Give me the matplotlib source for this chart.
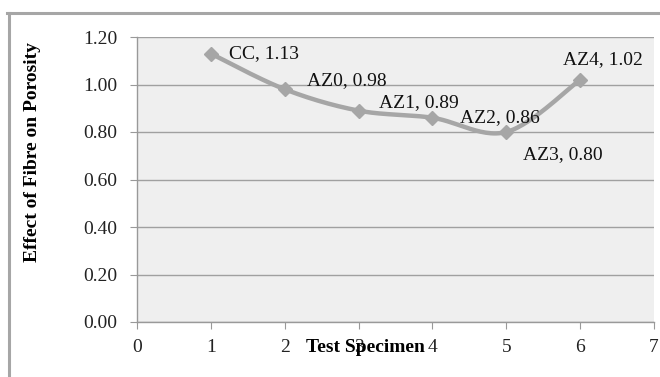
import numpy as np
import matplotlib.pyplot as plt
from matplotlib.lines import Line2D

#specimen names and their porosity effect
specimens = ["CC", "AZ0", "AZ1", "AZ2", "AZ3", "AZ4"]
positions = [1, 2, 3, 4, 5, 6]
porosity = [1.13, 0.98, 0.89, 0.86, 0.80, 1.02]

#label offsets in pixels (dx, dy), and horizontal alignment
label_offsets = [(18, 0, "left"), (22, 9, "left"), (20, 8, "left"),
                 (28, 0, "left"), (17, -23, "left"), (23, 20, "center")]

line_color = "#a6a6a6"
serif = ["Liberation Serif", "DejaVu Serif"]
fsize = 14


def smooth_curve(xs, ys, steps=30):
    #bezier segments like a spreadsheet "smoothed line"
    pts = np.column_stack((xs, ys)).astype(float)
    padded = np.vstack((pts[0], pts, pts[-1]))
    out = []
    for i in range(len(pts) - 1):
        p0 = padded[i + 1]
        p3 = padded[i + 2]
        c1 = p0 + (padded[i + 2] - padded[i]) / 6.0
        c2 = p3 - (padded[i + 3] - padded[i + 1]) / 6.0
        t = np.linspace(0, 1, steps)[:, None]
        seg = ((1 - t) ** 3) * p0 + 3 * ((1 - t) ** 2) * t * c1 + 3 * (1 - t) * t ** 2 * c2 + t ** 3 * p3
        out.append(seg if i == 0 else seg[1:])
    curve = np.vstack(out)
    return curve[:, 0], curve[:, 1]


fig = plt.figure(figsize=(6.6, 3.77), dpi=100)
W, H = 660, 377
ax = fig.add_axes([137 / W, 1 - 322 / H, (654 - 137) / W, (322 - 37) / H])

ax.set_facecolor("#efefef")
ax.set_xlim(0, 7)
ax.set_ylim(0, 1.2)
ax.set_xticks(range(0, 8))
ax.set_yticks(np.arange(0, 1.21, 0.2))
ax.set_yticklabels(["%.2f" % v for v in np.arange(0, 1.21, 0.2)])
ax.grid(axis="y", color="#a0a0a0", linewidth=1.0)
ax.set_axisbelow(True)

for side in ["top", "right"]:
    ax.spines[side].set_visible(False)
for side in ["left", "bottom"]:
    ax.spines[side].set_color("#999999")
    ax.spines[side].set_linewidth(1.0)

ax.tick_params(axis="both", direction="out", length=5, color="#999999", labelsize=fsize)
ax.tick_params(axis="x", pad=7)
ax.tick_params(axis="y", pad=9)
for lab in ax.get_xticklabels() + ax.get_yticklabels():
    lab.set_fontfamily(serif)
    lab.set_color("#222222")

sx, sy = smooth_curve(positions, porosity)
ax.plot(sx, sy, color=line_color, linewidth=3.2, solid_capstyle="round", zorder=3)
ax.plot(positions, porosity, linestyle="none", marker="D", markersize=7.5,
        color=line_color, zorder=4)

for name, x, y, (dx, dy, ha) in zip(specimens, positions, porosity, label_offsets):
    ax.annotate("%s, %.2f" % (name, y), (x, y), xytext=(dx, dy),
                textcoords="offset pixels", ha=ha, va="center",
                fontsize=fsize, family=serif, color="#111111", zorder=5)

#axis titles
fig.text(365 / W, 1 - 347 / H, "Test Specimen", ha="center", va="center",
         fontsize=fsize, fontweight="bold", family=serif)
fig.text(33 / W, 1 - 152 / H, "Effect of Fibre on Porosity", ha="center", va="center",
         rotation=90, fontsize=fsize, fontweight="bold", family=serif)

#outer chart frame
fig.add_artist(Line2D([8.5 / W, 8.5 / W], [0, 1 - 12.5 / H], transform=fig.transFigure,
                      color=line_color, linewidth=2.2))
fig.add_artist(Line2D([7.4 / W, 1], [1 - 12.5 / H, 1 - 12.5 / H], transform=fig.transFigure,
                      color=line_color, linewidth=2.2))

fig.savefig("out.png", dpi=100)
